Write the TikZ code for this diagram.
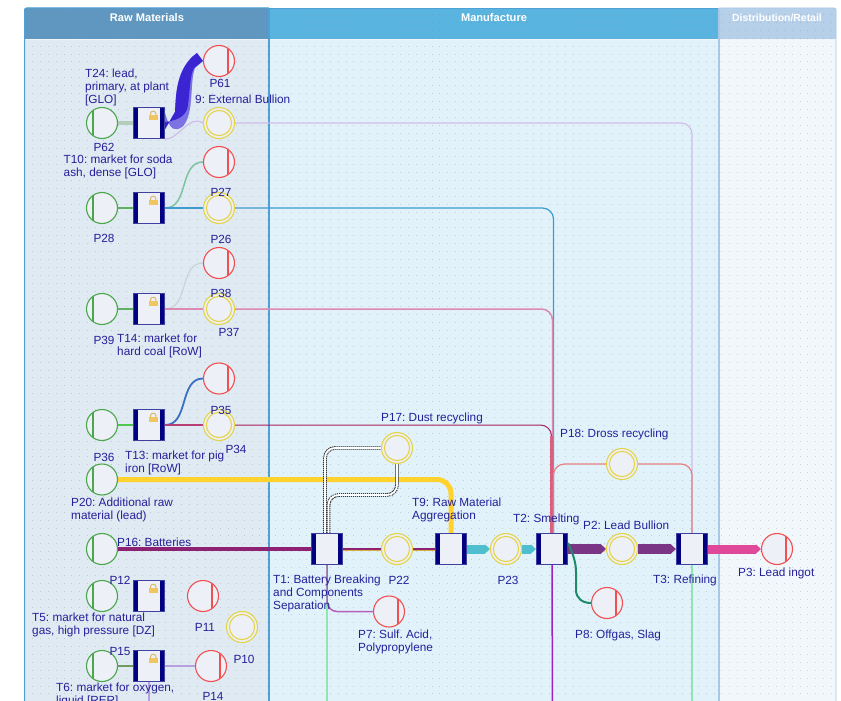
\documentclass[tikz,border=0pt]{standalone}
\usepackage{fontspec}
\setmainfont{Liberation Sans}
\frenchspacing
\usetikzlibrary{arrows.meta}
\definecolor{rawhead}{HTML}{5F97C0}
\definecolor{rawbody}{HTML}{DFEAF2}
\definecolor{manhead}{HTML}{5AB4E0}
\definecolor{manbody}{HTML}{E1F2FB}
\definecolor{dishead}{HTML}{B7D0EA}
\definecolor{disbody}{HTML}{F2F7FC}
\definecolor{lanel}{HTML}{4FA0D4}
\definecolor{lanem}{HTML}{A9C8E8}
\definecolor{txt}{HTML}{25209A}
\definecolor{fillp}{HTML}{EEF0F8}
\definecolor{navy}{HTML}{000080}
\definecolor{srcg}{HTML}{4CA64C}
\definecolor{snkr}{HTML}{F25050}
\definecolor{yel}{HTML}{E4D44A}
\definecolor{gold}{HTML}{F0C662}
\definecolor{bandd}{HTML}{3B25D3}
\definecolor{bandl}{HTML}{7D72E2}
\definecolor{lav}{HTML}{D2BCE8}
\definecolor{mint}{HTML}{7EC3A0}
\definecolor{skyl}{HTML}{3E9BD0}
\definecolor{paleg}{HTML}{C8D6DC}
\definecolor{pinkl}{HTML}{DD8AB0}
\definecolor{pinkd}{HTML}{D9607E}
\definecolor{bluec}{HTML}{3B6FC4}
\definecolor{magd}{HTML}{A8205F}
\definecolor{sunny}{HTML}{FFD22E}
\definecolor{plum}{HTML}{8E2272}
\definecolor{orch}{HTML}{B860B8}
\definecolor{mintl}{HTML}{8FE6B0}
\definecolor{violetc}{HTML}{A020C0}
\definecolor{tealc}{HTML}{4FBFCF}
\definecolor{grape}{HTML}{7A3585}
\definecolor{hotp}{HTML}{E0489A}
\definecolor{pine}{HTML}{1F8A6A}
\definecolor{salm}{HTML}{E88080}
\definecolor{grn}{HTML}{5FB060}
\definecolor{brgr}{HTML}{50C850}
\definecolor{pgr}{HTML}{B4CDBB}
\definecolor{oli}{HTML}{709A60}
\definecolor{lavd}{HTML}{B8A0E0}
\definecolor{goldl}{HTML}{D8B040}
\definecolor{hatch}{HTML}{333333}
\pgfdeclarelayer{lanelayer}
\pgfdeclarelayer{edgelayer}
\pgfsetlayers{lanelayer,edgelayer,main}
\tikzset{
  x=1pt,y=-1pt,
  lbl/.style={text=txt,font=\fontsize{11.8}{13.2}\selectfont,align=left,inner sep=0pt,anchor=north west},
  lblc/.style={text=txt,font=\fontsize{11.8}{13.2}\selectfont,inner sep=0pt,anchor=center},
  headlbl/.style={text=white,font=\fontsize{11.1}{12}\selectfont\bfseries,inner sep=0pt,anchor=center},
  headlblb/.style={text=white,font=\fontsize{10.4}{12}\selectfont\bfseries,inner sep=0pt,anchor=center},
  srcplace/.style={circle,draw=srcg,line width=1.1pt,fill=fillp,minimum size=31pt,inner sep=0pt,
    path picture={\draw[srcg,line width=1.1pt] ([xshift=-9pt]path picture bounding box.north) -- ([xshift=-9pt]path picture bounding box.south);}},
  snkplace/.style={circle,draw=snkr,line width=1.1pt,fill=fillp,minimum size=31pt,inner sep=0pt,
    path picture={\draw[snkr,line width=1.1pt] ([xshift=9pt]path picture bounding box.north) -- ([xshift=9pt]path picture bounding box.south);}},
  midplace/.style={circle,draw=yel,line width=1.1pt,fill=fillp,minimum size=31pt,inner sep=0pt,
    path picture={\draw[yel,line width=1.1pt] (path picture bounding box.center) circle (12.6pt);}},
  trans/.style={rectangle,draw=navy!75!white,line width=1.3pt,fill=fillp,minimum size=31pt,inner sep=0pt,
    path picture={\fill[navy] (path picture bounding box.north west) rectangle ([xshift=4.5pt]path picture bounding box.south west);
      \fill[navy] (path picture bounding box.north east) rectangle ([xshift=-4.5pt]path picture bounding box.south east);}},
  locked/.style={rectangle,draw=navy!75!white,line width=1.3pt,fill=fillp,minimum size=31pt,inner sep=0pt,
    path picture={\fill[navy] (path picture bounding box.north west) rectangle ([xshift=4.5pt]path picture bounding box.south west);
      \fill[navy] (path picture bounding box.north east) rectangle ([xshift=-4.5pt]path picture bounding box.south east);
      \begin{scope}[shift={(path picture bounding box.center)}]
        \draw[gold!80!gray,line width=1pt] (6.9,-8) -- (6.9,-9.5) .. controls (6.9,-12.5) and (1.5,-12.5) .. (1.5,-9.5) -- (1.5,-8);
        \fill[gold] (-0.3,-8) rectangle (8.7,-2.8);
      \end{scope}}},
  conn/.style={line width=#1,line cap=butt},
  conn/.default=1.5pt,
  hatchline/.style={line width=3.8pt,hatch,rounded corners=10pt,dash pattern=on 1.2pt off 0.8pt},
  hatchcore/.style={line width=1.7pt,white,rounded corners=10pt},
  chev/.style={line width=9pt,-{Triangle[length=5pt,width=9pt]}},
  chevb/.style={line width=10pt,-{Triangle[length=5.5pt,width=10pt]}},
  orth/.style={rounded corners=11pt},
  dotrow/.style={gray,opacity=0.3,line width=0.9pt,dash pattern=on 0.9pt off 6.93pt},
}
\begin{document}
\begin{tikzpicture}
\useasboundingbox (0,0) rectangle (841,701);
\begin{pgfonlayer}{lanelayer}
\fill[white] (0,0) rectangle (841,701);
\fill[rawbody,rounded corners=2pt] (24.5,8) rectangle (269,720);
\fill[manbody] (269,8) rectangle (719,720);
\fill[disbody,rounded corners=2pt] (719,8) rectangle (836,720);
\begin{scope}
\clip (0,0) rectangle (841,39);
\fill[rawhead,rounded corners=2pt] (24.5,8) rectangle (269,60);
\fill[manhead] (269,8) rectangle (719,60);
\fill[dishead,rounded corners=2pt] (719,8) rectangle (836,60);
\end{scope}
\draw[white!50!rawbody,line width=0.8pt] (24.5,39.2) -- (836,39.2);
\foreach \j in {0,...,87}{
  \draw[dotrow] (32.3,{14.5+7.9*\j}) -- (832,{14.5+7.9*\j});
}
\draw[lanel,line width=1pt,rounded corners=2pt] (24.5,720) -- (24.5,8) -- (269,8);
\draw[lanel,line width=1.5pt] (269,8) -- (269,720);
\draw[lanel,line width=0.8pt] (269,8) -- (719,8);
\draw[lanem,line width=1.5pt] (719,8) -- (719,720);
\draw[lanem,line width=0.8pt,rounded corners=2pt] (719,8) -- (836,8) -- (836,720);
\end{pgfonlayer}
\node[headlbl] (hraw) at (147,17.5) {Raw Materials};
\node[headlbl] (hman) at (494,17.5) {Manufacture};
\node[headlblb] (hdis) at (777,17.5) {Distribution/Retail};
% free ends
\coordinate (t1out) at (327,710);
\coordinate (t2out) at (552.5,710);
\coordinate (t3out) at (692,710);
\coordinate (t6out) at (149,710);
% places and transitions
\path
 (219,61)  node[snkplace] (p61) {}
 (102,123) node[srcplace] (p62) {}
 (149,123) node[locked] (t24) {}
 (219,123) node[midplace] (p9) {}
 (219,162) node[snkplace] (p27) {}
 (102,208) node[srcplace] (p28) {}
 (149,208) node[locked] (t10) {}
 (219,208) node[midplace] (p26) {}
 (219,263) node[snkplace] (p38) {}
 (102,309) node[srcplace] (p39) {}
 (149,309) node[locked] (t14) {}
 (219,309) node[midplace] (p37) {}
 (219,378.5) node[snkplace] (p35) {}
 (102,425) node[srcplace] (p36) {}
 (149,425) node[locked] (t13) {}
 (219,425) node[midplace] (p34) {}
 (102,479.5) node[srcplace] (p20) {}
 (102,549) node[srcplace] (p16) {}
 (327,549) node[trans] (t1) {}
 (397,549) node[midplace] (p22) {}
 (451,549) node[trans] (t9) {}
 (506,549) node[midplace] (p23) {}
 (552,549) node[trans] (t2) {}
 (622,549) node[midplace] (p2) {}
 (692,549) node[trans] (t3) {}
 (777,549) node[snkplace] (p3) {}
 (607,603) node[snkplace] (p8) {}
 (389,611.5) node[snkplace] (p7) {}
 (397,448) node[midplace] (p17) {}
 (622,464) node[midplace] (p18) {}
 (102,596) node[srcplace] (p12) {}
 (149,596) node[locked] (t5) {}
 (203,596) node[snkplace] (p11) {}
 (242,627) node[midplace] (p10) {}
 (102,666) node[srcplace] (p15) {}
 (149,666) node[locked] (t6) {}
 (211,666) node[snkplace] (p14) {};
% connectors
\begin{pgfonlayer}{edgelayer}
\draw[conn=3.5pt,pgr] (p62) -- (t24);
\draw[conn=1.2pt,lav] (t24.south east) .. controls +(14,0) and +(-14,-9) .. (p9.west);
\fill[bandl] ([yshift=-6pt]t24.east) -- (175,112) .. controls (176,95) and (176,68) .. (197,53)
   -- (p61.west) -- (195,68) .. controls (192,75) and (192,90) .. (191,100)
   .. controls (190,115) and (186,124) .. (182,127) .. controls (176,131) and (170,132) .. ([yshift=10pt]t24.east) -- cycle;
\fill[bandd] ([yshift=-6pt]t24.east) -- (175,112) .. controls (176,95) and (176,68) .. (197,53)
   -- (p61.west) -- (194,68) .. controls (190,75) and (190,90) .. (188,105)
   .. controls (187,113) and (182,120) .. ([yshift=1pt]t24.east) -- cycle;
\draw[conn=1.2pt,lav,orth] (p9.east) -| (t3.north);
\draw[conn=2.2pt,grn] (p28) -- (t10);
\draw[conn=1.5pt,mint] (t10.east) .. controls +(24,0) and +(-24,0) .. (p27.west);
\draw[conn=1.5pt,skyl] (t10.east) -- (p26.west);
\draw[conn=1.2pt,skyl,orth] (p26.east) -| ([xshift=1.5pt]t2.north);
\draw[conn=2.2pt,grn] (p39) -- (t14);
\draw[conn=1.3pt,paleg] (t14.east) .. controls +(24,0) and +(-24,0) .. (p38.west);
\draw[conn=1.8pt,pinkl] (t14.east) -- (p37.west);
\draw[conn=1.5pt,pinkl,orth] (p37.east) -| ([xshift=0.5pt]t2.north);
\draw[conn=2.2pt,brgr] (p36) -- (t13);
\draw[conn=1.8pt,bluec] (t13.east) .. controls +(24,0) and +(-24,0) .. (p35.west);
\draw[conn=1.3pt,magd!70!pinkl] (t13.east) -- (p34.west);
\draw[conn=1pt,magd,orth] (p34.east) -| ([xshift=-0.5pt]t2.north);
\draw[conn=3pt,pinkd] ([xshift=-0.5pt]t2.north) -- ++(0,-97);
\draw[conn=5pt,sunny,rounded corners=14pt] (p20.east) -| (t9.north);
\draw[conn=4pt,plum] (p16) -- (t1);
\draw[hatchline] ([xshift=-2pt]t1.north) |- (p17.west);
\draw[hatchcore] ([xshift=-2pt]t1.north) |- (p17.west);
\draw[hatchline] ([xshift=1.5pt]t1.north) |- (397,495) -- (p17.south);
\draw[hatchcore] ([xshift=1.5pt]t1.north) |- (397,495) -- (p17.south);
\draw[conn=3pt,goldl] (t1) -- (p22);
\draw[conn=2pt,plum] (t1) -- (p22);
\draw[conn=3pt,goldl] (p22) -- (t9);
\draw[conn=2pt,plum] (p22) -- (t9);
\draw[conn=1.5pt,mintl] (t1.south) -- (t1out);
\draw[conn=1.5pt,orch,rounded corners=10pt] (t1.south) |- (p7.west);
\draw[tealc,chev] (t9) -- (p23);
\draw[tealc,chev] (p23) -- (t2);
\draw[grape,chevb] (t2) -- (p2);
\draw[grape,chevb] (p2) -- (t3);
\draw[hotp,chev] (t3) -- (p3);
\draw[conn=2pt,pine] ([yshift=6pt]t2.east) .. controls (574,556) and (576,564) .. (576,572) -- (576,590) .. controls (576,598) and (582,603) .. (p8.west);
\draw[conn=1.5pt,violetc] (t2.south) -- (t2out);
\draw[conn=1.5pt,mintl] (t3.south) -- (t3out);
\draw[conn=1.2pt,salm,orth] ([xshift=1.5pt]t2.north) |- (p18.west);
\draw[conn=1.2pt,salm,orth] (p18.east) -| (t3.north);
\draw[conn=1.5pt,oli] (p15) -- (t6);
\draw[conn=1.2pt,lavd] (t6) -- (p14);
\draw[conn=1.2pt,lavd] (t6.south) -- (t6out);
\end{pgfonlayer}
% labels
\node[lbl] (lt24) at (85,68.5) {T24: lead,\\primary, at plant\\{[GLO]}};
\node[lblc] (lp61) at (220,83) {P61};
\node[lbl] (lp9) at (195,94.5) {9: External Bullion};
\node[lblc] (lp62) at (104,147) {P62};
\node[lbl] (lt10) at (63.5,154.5) {T10: market for soda\\ash, dense [GLO]};
\node[lblc] (lp27) at (221,192) {P27};
\node[lblc] (lp28) at (104,238) {P28};
\node[lblc] (lp26) at (221,239) {P26};
\node[lblc] (lp38) at (221,293) {P38};
\node[lblc] (lp37) at (229,332) {P37};
\node[lblc] (lp39) at (104,340) {P39};
\node[lbl] (lt14) at (117,333.5) {T14: market for\\hard coal [RoW]};
\node[lblc] (lp35) at (221,410) {P35};
\node[lblc] (lp34) at (236,449) {P34};
\node[lblc] (lp36) at (104,457) {P36};
\node[lbl] (lt13) at (125,450.5) {T13: market for pig\\iron [RoW]};
\node[lbl] (lp20) at (71,497.5) {P20: Additional raw\\material (lead)};
\node[lbl] (lp16) at (117,537.5) {P16: Batteries};
\node[lblc] (lp12) at (120,580) {P12};
\node[lbl] (lt5) at (32,612.5) {T5: market for natural\\gas, high pressure [DZ]};
\node[lblc] (lp11) at (205,627) {P11};
\node[lblc] (lp15) at (120,651) {P15};
\node[lblc] (lp10) at (244,659) {P10};
\node[lbl] (lt6) at (56,682.5) {T6: market for oxygen,\\liquid [RER]};
\node[lblc] (lp14) at (213,696) {P14};
\node[lbl] (lt1) at (273,574.5) {T1: Battery Breaking\\and Components\\Separation};
\node[lblc] (lp22) at (399,580) {P22};
\node[lblc] (lp23) at (508,580) {P23};
\node[lbl] (lt9) at (412,497.5) {T9: Raw Material\\Aggregation};
\node[lbl] (lt2) at (513,513.5) {T2: Smelting};
\node[lbl] (lp2) at (583,520.5) {P2: Lead Bullion};
\node[lbl] (lp17) at (381,412.5) {P17: Dust recycling};
\node[lbl] (lp18) at (560,428.5) {P18: Dross recycling};
\node[lbl] (lt3) at (653,574.5) {T3: Refining};
\node[lbl] (lp3) at (738,567.5) {P3: Lead ingot};
\node[lbl] (lp7) at (358,629.5) {P7: Sulf. Acid,\\Polypropylene};
\node[lbl] (lp8) at (575,629.5) {P8: Offgas, Slag};
\end{tikzpicture}
\end{document}
